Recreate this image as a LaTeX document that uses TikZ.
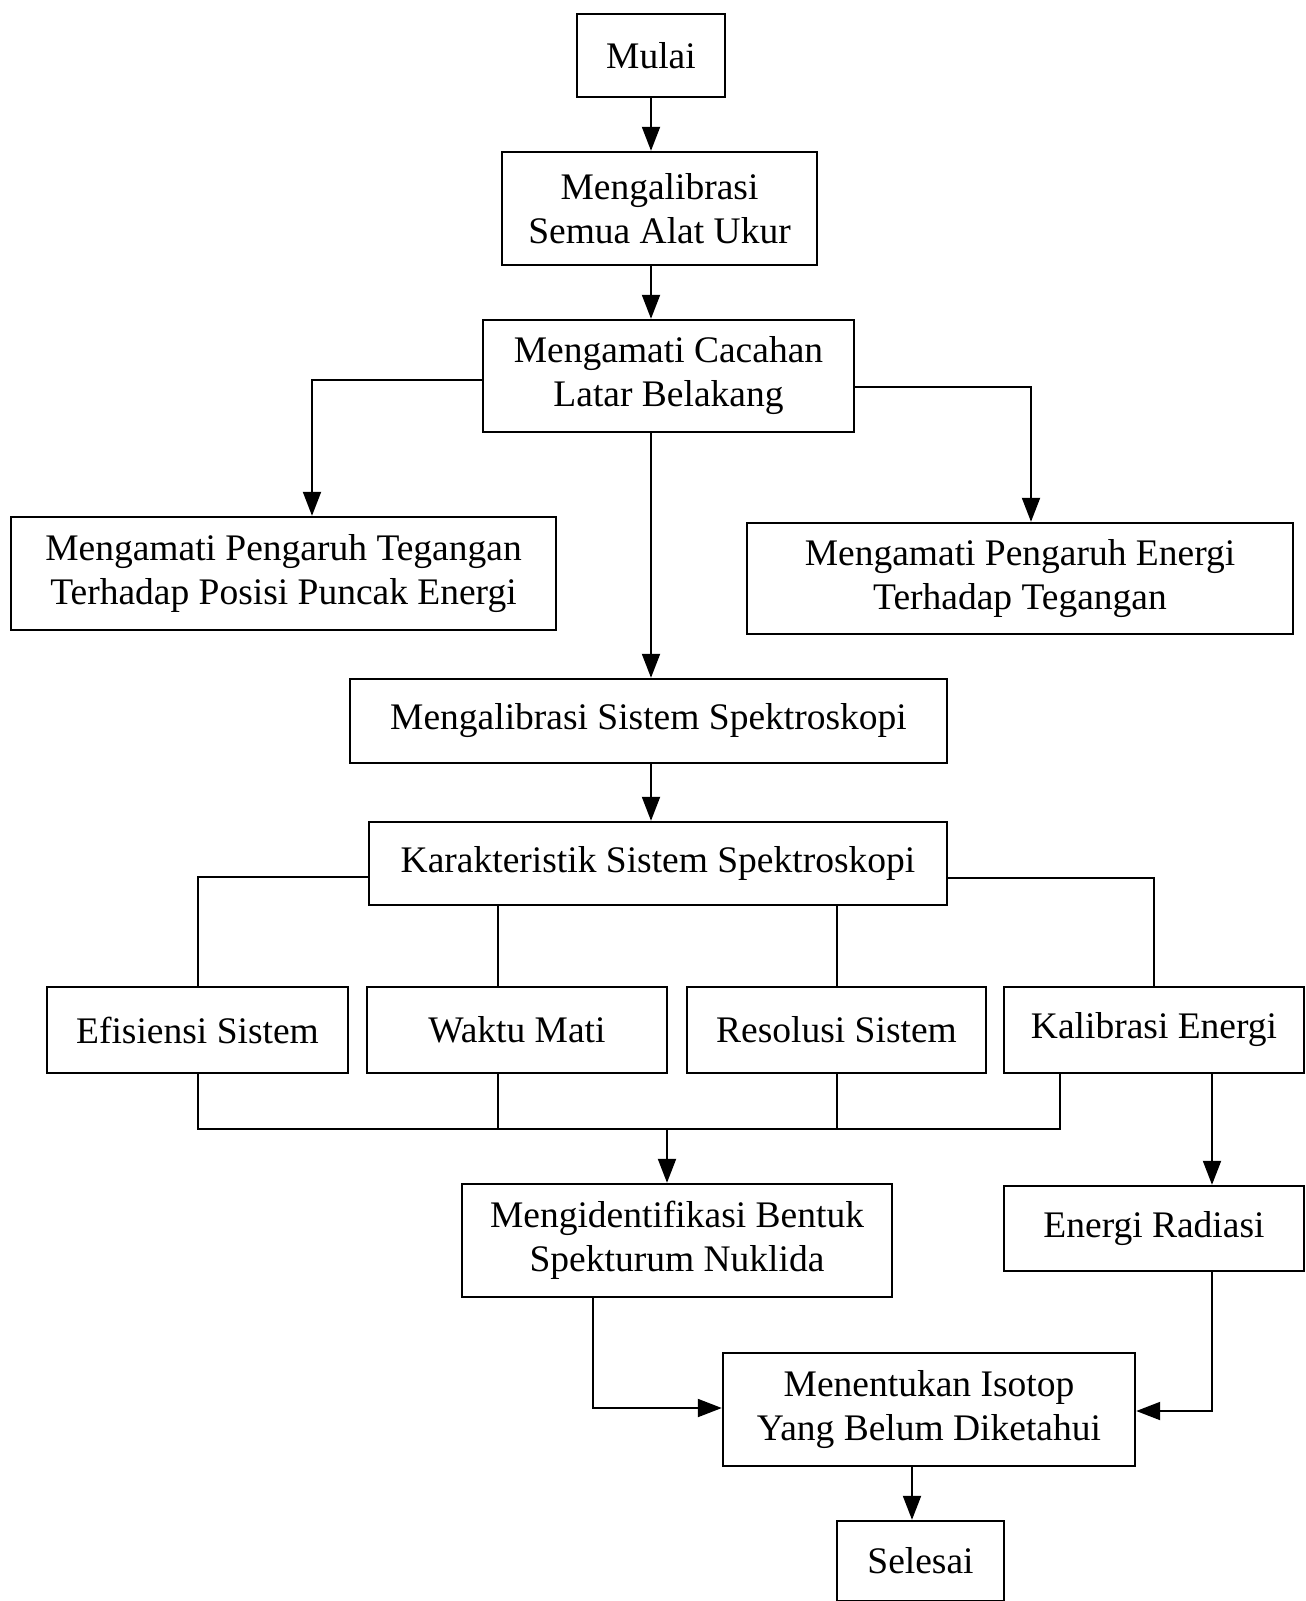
\documentclass[tikz,border=0pt]{standalone}
\usepackage{fontspec}
\setmainfont{Liberation Serif}
\usetikzlibrary{arrows.meta,calc}
\tikzset{
  box/.style={draw, line width=2.4pt, inner sep=0pt, align=center,
    font=\fontsize{37.5}{44}\selectfont},
  link/.style={line width=2pt},
  arr/.style={line width=2pt, -{Triangle[length=24pt,width=18pt]}}
}
\begin{document}
\begin{tikzpicture}[x=1pt,y=-1pt]
\useasboundingbox (0,0) rectangle (1306,1601);
\node[box, minimum width=148pt, minimum height=83pt] (mulai) at (651,55.5) {Mulai};
\node[box, minimum width=315pt, minimum height=113pt] (calib) at (659.5,208.5) {Mengalibrasi\\Semua Alat Ukur};
\node[box, minimum width=371pt, minimum height=112pt] (cacah) at (668.5,376) {Mengamati Cacahan\\Latar Belakang};
\node[box, minimum width=545pt, minimum height=113pt] (tegL) at (283.5,573.5) {Mengamati Pengaruh Tegangan\\Terhadap Posisi Puncak Energi};
\node[box, minimum width=546pt, minimum height=111pt] (tegR) at (1020,578.5) {Mengamati Pengaruh Energi\\Terhadap Tegangan};
\node[box, minimum width=597pt, minimum height=84pt] (spek) at (648.5,721) {Mengalibrasi Sistem Spektroskopi};
\node[box, minimum width=578pt, minimum height=83pt] (karak) at (658,863.5) {Karakteristik Sistem Spektroskopi};
\node[box, minimum width=301pt, minimum height=86pt] (efis) at (197.5,1030) {Efisiensi Sistem};
\node[box, minimum width=300pt, minimum height=86pt] (waktu) at (517,1030) {Waktu Mati};
\node[box, minimum width=299pt, minimum height=86pt] (resol) at (836.5,1030) {Resolusi Sistem};
\node[box, minimum width=300pt, minimum height=86pt] (kalib) at (1154,1030) {Kalibrasi Energi};
\node[box, minimum width=430pt, minimum height=113pt] (ident) at (677,1240.5) {Mengidentifikasi Bentuk\\Spekturum Nuklida};
\node[box, minimum width=300pt, minimum height=85pt] (radiasi) at (1154,1228.5) {Energi Radiasi};
\node[box, minimum width=412pt, minimum height=113pt] (tentu) at (929,1409.5) {Menentukan Isotop\\Yang Belum Diketahui};
\node[box, minimum width=167pt, minimum height=80pt] (selesai) at (920.5,1561) {Selesai};
% spine
\draw[arr] (mulai.south) -- (mulai.south |- calib.north);
\draw[arr] (calib.south -| mulai) -- (cacah.north -| mulai);
\draw[arr] (cacah.south -| mulai) -- (spek.north -| mulai);
\draw[arr] (spek.south -| mulai) -- (karak.north -| mulai);
% branches from cacah
\draw[arr] ([yshift=-4pt]cacah.west) -| ([xshift=28.5pt]tegL.north);
\draw[arr] ([yshift=-11pt]cacah.east) -| ([xshift=11pt]tegR.north);
% branches from karak
\draw[link] ([yshift=-13.5pt]karak.west) -| (efis.north);
\draw[link] ([yshift=-14.5pt]karak.east) -| (kalib.north);
\draw[link] ([xshift=-19pt]waktu.north |- karak.south) -- ([xshift=-19pt]waktu.north);
\draw[link] (resol.north |- karak.south) -- (resol.north);
% collector
\coordinate (busy) at (0,1129);
\draw[link] (efis.south) -- (efis.south |- busy) -- ([xshift=-94pt]kalib.south |- busy) -- ([xshift=-94pt]kalib.south);
\draw[link] ([xshift=-19pt]waktu.south) -- ([xshift=-19pt]waktu.south |- busy);
\draw[link] (resol.south) -- (resol.south |- busy);
\draw[arr] ([xshift=-10pt]ident.north |- busy) -- ([xshift=-10pt]ident.north);
\draw[arr] ([xshift=58pt]kalib.south) -- ([xshift=58pt]radiasi.north);
% to tentu
\draw[arr] ([xshift=-84pt]ident.south) |- ([yshift=1.5pt]tentu.west);
\draw[arr] ([xshift=58pt]radiasi.south) |- ([yshift=-1.5pt]tentu.east);
\draw[arr] ([xshift=-8.5pt]selesai.north |- tentu.south) -- ([xshift=-8.5pt]selesai.north);
\end{tikzpicture}
\end{document}
